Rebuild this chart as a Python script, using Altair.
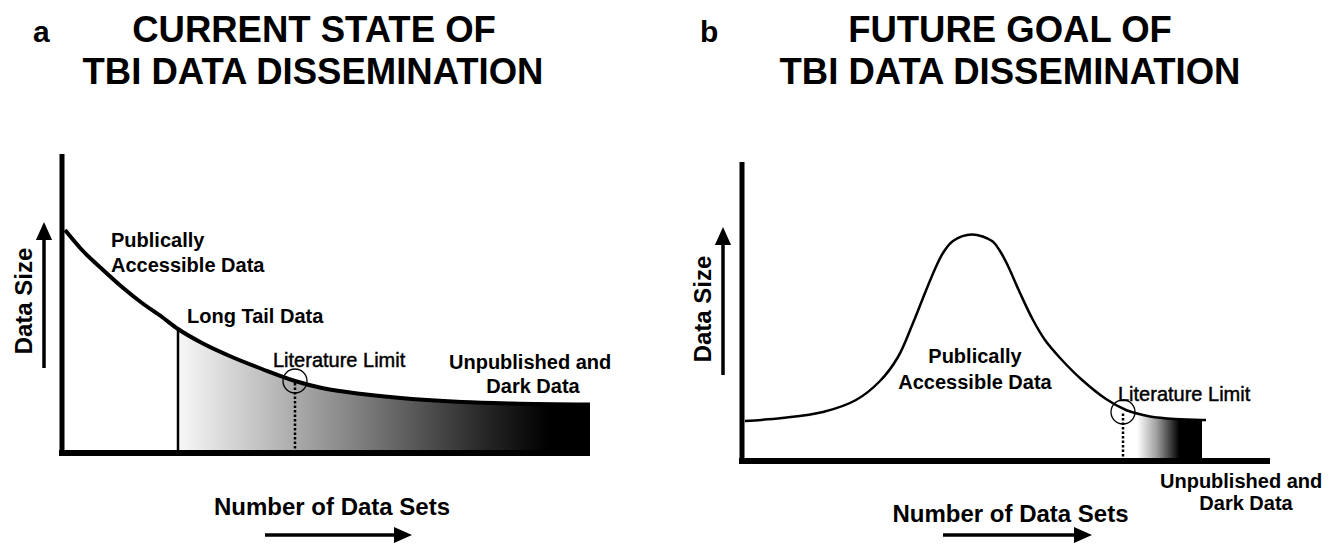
import altair as alt
import pandas as pd

FONT = "Liberation Sans"
W_A, W_B, H = 669, 654, 530

# ---------------- panel a : units measured from the axes' origin ----------------
a_curve_x = [3, 20, 40, 60, 80, 100, 116, 140, 170, 200, 233, 260, 300, 350, 400, 450, 528]
a_curve_y = [223, 203, 184, 166, 150, 136, 124, 110, 96, 84, 72, 65, 59, 54, 51, 49.5, 48.5]
a_shade = (116, 528)
a_longtail_x = 116
a_literature = (233, 72)
a_stops = [(0.0, "#f8f8f8"), (0.28, "#acacac"), (0.52, "#686868"),
           (0.76, "#222222"), (0.9, "#000000"), (1.0, "#000000")]
a_xdom = [-54, 615]
a_ydom = [-85, 445]
a_axes = {"x_len": 528, "y_len": 299}
a_arrows = {"up": (-18, 85, 222), "right": (-82, 203, 341)}
a_labels = [
    ("a", -29, 411, "letter"),
    ("CURRENT STATE OF", 252, 411, "title"),
    ("TBI DATA DISSEMINATION", 251, 369, "title"),
    ("Publically", 49, 206, "note"),
    ("Accessible Data", 49, 181, "note"),
    ("Long Tail Data", 125, 130, "note"),
    ("Unpublished and", 387, 84, "note"),
    ("Dark Data", 471, 60, "note_c"),
    ("Literature Limit", 211, 86, "limit"),
    ("Number of Data Sets", 270, -62, "axis"),
    ("Data Size", -37, 152, "axis_v"),
]

# ---------------- panel b ----------------
b_curve_x = [3, 40, 81, 114, 138, 156, 171, 183, 193, 201, 211, 230, 250, 258, 266,
             278, 291, 303, 319, 339, 364, 384, 395, 408, 433, 460, 464]
b_curve_y = [40, 43, 49, 61, 80, 104, 138, 168, 192, 208, 220, 226.5, 220, 210, 195,
             168, 141, 121, 102, 82, 62, 51, 47.5, 44.5, 42, 41, 41]
b_shade = (395, 460)
b_literature = (381, 49)
b_stops = [(0.0, "#ffffff"), (0.3, "#a0a0a0"), (0.65, "#000000"), (1.0, "#000000")]
b_xdom = [-65, 589]
b_ydom = [-77, 453]
b_axes = {"x_len": 528, "y_len": 299}
b_arrows = {"up": (-19, 86, 225), "right": (-74, 201, 341)}
b_labels = [
    ("b", -42, 419, "letter"),
    ("FUTURE GOAL OF", 268, 419, "title"),
    ("TBI DATA DISSEMINATION", 268, 377, "title"),
    ("Publically", 233, 98, "note_c"),
    ("Accessible Data", 233, 72, "note_c"),
    ("Literature Limit", 376, 60, "limit"),
    ("Unpublished and", 418, -26.5, "note"),
    ("Dark Data", 504, -48.5, "note_c"),
    ("Number of Data Sets", 268.5, -61, "axis"),
    ("Data Size", -38, 152, "axis_v"),
]

STYLES = {
    "letter": dict(fontSize=30, fontWeight="bold", align="left"),
    "title": dict(fontSize=36.5, fontWeight="bold", align="center"),
    "note": dict(fontSize=20, fontWeight="bold", align="left"),
    "note_c": dict(fontSize=20, fontWeight="bold", align="center"),
    "limit": dict(fontSize=20, fontWeight="normal", align="left", stroke="black", strokeWidth=0.45),
    "axis": dict(fontSize=24, fontWeight="bold", align="center"),
    "axis_v": dict(fontSize=24, fontWeight="bold", align="center", angle=270, baseline="middle"),
}

UP_HEAD = "M0,-1L-0.9,1L0.9,1Z"
RIGHT_HEAD = "M1,0L-1,-0.9L-1,0.9Z"


def panel(curve_x, curve_y, shade, stops, literature, xdom, ydom, axes, arrows, labels,
          width, curve_w, interp, longtail_x=None):
    xs = alt.Scale(domain=xdom, nice=False, zero=False)
    ys = alt.Scale(domain=ydom, nice=False, zero=False)

    def X(f="x"):
        return alt.X(f"{f}:Q", scale=xs, axis=None)

    def Y(f="y"):
        return alt.Y(f"{f}:Q", scale=ys, axis=None)

    curve = pd.DataFrame({"x": curve_x, "y": curve_y})
    shade_df = curve[(curve.x >= shade[0]) & (curve.x <= shade[1])]

    grad = alt.Gradient(
        gradient="linear",
        stops=[alt.GradientStop(color=c, offset=o) for o, c in stops],
        x1=0, x2=1, y1=0, y2=0,
    )
    layers = []
    layers.append(
        alt.Chart(shade_df).mark_area(color=grad, interpolate=interp)
        .encode(x=X(), y=Y(), y2=alt.datum(0))
    )
    layers.append(
        alt.Chart(curve).mark_line(color="black", strokeWidth=curve_w, interpolate=interp,
                                   strokeCap="butt")
        .encode(x=X(), y=Y())
    )
    # axis lines
    ax = pd.DataFrame({
        "x": [0, -3], "x2": [0, axes["x_len"]],
        "y": [-3, 0], "y2": [axes["y_len"], 0], "w": [5, 6],
    })
    layers.append(
        alt.Chart(ax).mark_rule(color="black")
        .encode(x=X(), x2="x2:Q", y=Y(), y2="y2:Q",
                strokeWidth=alt.StrokeWidth("w:Q", scale=None))
    )
    if longtail_x is not None:
        lt_top = float(curve.loc[curve.x == longtail_x, "y"].iloc[0])
        lt = pd.DataFrame({"x": [longtail_x], "y": [0], "y2": [lt_top]})
        layers.append(
            alt.Chart(lt).mark_rule(color="black", strokeWidth=2.5)
            .encode(x=X(), y=Y(), y2="y2:Q")
        )
    lit = pd.DataFrame({"x": [literature[0]], "y": [literature[1]], "y0": [0]})
    layers.append(
        alt.Chart(lit).mark_rule(color="black", strokeWidth=2.5, strokeDash=[2.5, 2])
        .encode(x=X(), y=Y("y0"), y2="y:Q")
    )
    layers.append(
        alt.Chart(lit).mark_point(shape="circle", filled=False, color="black",
                                  size=576, strokeWidth=1.3, opacity=1)
        .encode(x=X(), y=Y())
    )
    # arrows
    ux, uy0, uy1 = arrows["up"]
    ry, rx0, rx1 = arrows["right"]
    shafts = pd.DataFrame({"x": [ux, rx0], "x2": [ux, rx1], "y": [uy0, ry], "y2": [uy1, ry]})
    layers.append(
        alt.Chart(shafts).mark_rule(color="black", strokeWidth=3.5)
        .encode(x=X(), x2="x2:Q", y=Y(), y2="y2:Q")
    )
    heads = pd.DataFrame({"x": [ux, rx1], "y": [uy1, ry], "s": [UP_HEAD, RIGHT_HEAD]})
    layers.append(
        alt.Chart(heads).mark_point(filled=True, color="black", size=324, opacity=1)
        .encode(x=X(), y=Y(), shape=alt.Shape("s:N", scale=None))
    )
    # labels
    lab = pd.DataFrame(labels, columns=["text", "x", "y", "style"])
    for st, props in STYLES.items():
        sub = lab[lab["style"] == st]
        if sub.empty:
            continue
        kw = dict(props)
        kw.setdefault("baseline", "alphabetic")
        layers.append(
            alt.Chart(sub).mark_text(font=FONT, color="black", **kw)
            .encode(x=X(), y=Y(), text="text:N")
        )
    return alt.layer(*layers).properties(width=width, height=H)


pa = panel(a_curve_x, a_curve_y, a_shade, a_stops, a_literature, a_xdom, a_ydom, a_axes,
           a_arrows, a_labels, W_A, 4, "monotone", longtail_x=a_longtail_x)
pb = panel(b_curve_x, b_curve_y, b_shade, b_stops, b_literature, b_xdom, b_ydom, b_axes,
           b_arrows, b_labels, W_B, 2.5, "catmull-rom")

chart = (
    alt.hconcat(pa, pb, spacing=0, bounds="flush")
    .properties(padding=0, background="white")
    .configure_view(stroke=None)
)

chart.save("out.html", embed_options={"renderer": "svg", "actions": False})
